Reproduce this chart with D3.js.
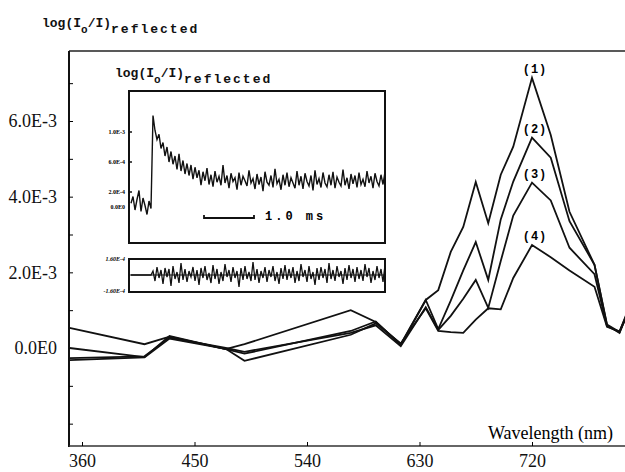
<!DOCTYPE html>
<html>
<head>
<meta charset="utf-8">
<script src="https://cdn.jsdelivr.net/npm/d3@7"></script>
<style>
  body { margin: 0; background: #fff; }
  svg { display: block; }
</style>
</head>
<body>
<svg width="625" height="472"></svg>
<script>
// wavelengths (nm) where the spectra were sampled
const wavelengths = [350, 410, 430, 475, 490, 575, 595, 615, 635, 645, 655, 665, 675, 685, 695, 705, 720, 735, 750, 770, 780, 790, 795];

// log(Io/I) reflected, in units of 1E-3
const curve1 = [0.53, 0.10, 0.30, -0.03, 0.10, 1.00, 0.69, 0.10, 1.27, 1.53, 2.54, 3.20, 4.39, 3.30, 4.58, 5.32, 7.14, 5.63, 3.60, 2.20, 0.62, 0.42, 0.85];
const curve2 = [0.00, -0.24, 0.32, -0.03, -0.15, 0.45, 0.70, 0.08, 1.27, 0.50, 1.25, 2.05, 2.80, 1.80, 3.40, 4.40, 5.56, 5.03, 3.35, 2.20, 0.60, 0.40, 0.80];
const curve3 = [-0.27, -0.22, 0.27, 0.00, -0.10, 0.40, 0.60, 0.05, 1.08, 0.48, 0.85, 1.30, 1.80, 1.06, 2.30, 3.50, 4.37, 3.90, 2.65, 1.95, 0.58, 0.42, 0.80];
const curve4 = [-0.32, -0.25, 0.25, -0.02, -0.34, 0.35, 0.65, 0.12, 1.05, 0.45, 0.42, 0.40, 0.75, 1.05, 1.02, 1.85, 2.72, 2.40, 2.05, 1.62, 0.56, 0.44, 0.82];
const curveNames = ["(1)", "(2)", "(3)", "(4)"];

const xTicks = [360, 450, 540, 630, 720];
const yTicks = [-2, -1, 0, 1, 2, 3, 4, 5, 6, 7];
const yLabels = [0, 2, 4, 6];

// inset: kinetic trace (1E-3), sampled every 0.04 ms from 0.04 ms
const traceStart = 0.04, traceStep = 0.04;
const trace = [0.05, 0.14, -0.04, 0.10, 0.22, -0.06, 0.12, 0.02, -0.10, 0.08, -0.02,
  1.22, 1.02, 0.90, 0.97, 0.78, 0.86, 0.68, 0.80, 0.60, 0.74,
  0.57, 0.68, 0.50, 0.71, 0.48, 0.62, 0.44, 0.58, 0.42, 0.56,
  0.37, 0.53, 0.39, 0.49, 0.29, 0.47, 0.35, 0.52, 0.30, 0.43,
  0.27, 0.48, 0.33, 0.41, 0.29, 0.56, 0.32, 0.42, 0.25, 0.45,
  0.34, 0.39, 0.23, 0.46, 0.29, 0.41, 0.35, 0.28, 0.49, 0.32,
  0.38, 0.24, 0.44, 0.30, 0.40, 0.21, 0.47, 0.33, 0.29, 0.42,
  0.26, 0.51, 0.31, 0.37, 0.23, 0.43, 0.29, 0.46, 0.27, 0.39,
  0.32, 0.25, 0.48, 0.29, 0.41, 0.24, 0.45, 0.34, 0.28, 0.42,
  0.22, 0.49, 0.30, 0.38, 0.26, 0.46, 0.32, 0.27, 0.43, 0.29,
  0.47, 0.25, 0.40, 0.33, 0.28, 0.50, 0.29, 0.39, 0.24, 0.44,
  0.31, 0.42, 0.26, 0.46, 0.30, 0.37, 0.27, 0.48, 0.32, 0.41,
  0.25, 0.45, 0.34, 0.28, 0.43, 0.30, 0.47];
const traceTickValues = [0, 0.2, 0.6, 1.0];
const traceTickLabels = ["0.0E0", "2.0E-4", "6.0E-4", "1.0E-3"];

// inset: residuals of the fit (1E-4)
const residuals = [0, 0, 0, 0, 0, 0, 0, 0, 0, 0, 0,
  0.4, -0.6, 0.8, -0.3, 0.5, -0.9, 0.7, -0.2, 0.6, -1.1,
  0.9, -0.4, 0.3, -0.8, 1.2, -0.5, 0.6, -0.7, 0.4, -0.2,
  0.8, -0.6, 0.5, -1.0, 0.7, -0.3, 0.9, -0.5, 0.2, -0.8,
  1.0, -0.4, 0.6, -0.9, 0.3, -0.6, 1.1, -0.2, 0.5, -0.7,
  0.8, -0.3, 0.4, -1.2, 0.7, -0.5, 0.9, -0.4, 0.3, -0.6,
  1.3, -0.5, 0.6, -0.8, 0.4, -0.3, 0.8, -0.7, 0.5, -0.2,
  0.9, -0.6, 0.3, -0.9, 0.7, -0.4, 1.0, -0.5, 0.6, -0.3,
  0.8, -0.8, 0.4, -0.6, 1.1, -0.2, 0.5, -0.7, 0.9, -0.4,
  0.3, -1.0, 0.7, -0.5, 0.8, -0.3, 0.6, -0.8, 1.2, -0.4,
  0.5, -0.6, 0.9, -0.2, 0.4, -0.9, 0.7, -0.5, 1.0, -0.3,
  0.6, -0.7, 0.8, -0.4, 0.5, -0.6, 1.1, -0.2, 0.7, -0.8,
  0.4, -0.5, 0.9, -0.3, 0.6, -0.7, 1.0];
const residualLabels = ["1.60E-4", "-1.60E-4"];

const svg = d3.select("svg");
const mono = "'Liberation Mono', 'DejaVu Sans Mono', monospace";
const serif = "'Liberation Serif', 'DejaVu Serif', serif";

const x = d3.scaleLinear().domain([360, 720]).range([82, 532]);
const y = d3.scaleLinear().domain([0, 6]).range([348, 121]);

// frame: top line and left axis
svg.append("line")
    .attr("x1", 69).attr("x2", 625).attr("y1", 51).attr("y2", 51)
    .attr("stroke", "#222").attr("stroke-width", 1.5);

const yAxisTicks = svg.append("g")
    .attr("transform", "translate(69,0)")
    .call(d3.axisLeft(y).tickValues(yTicks).tickSize(-4).tickFormat(""));
yAxisTicks.select(".domain").attr("d", "M0,51V447").attr("stroke", "#111").attr("stroke-width", 2);

const yAxisLabels = svg.append("g")
    .attr("transform", "translate(69,0)")
    .call(d3.axisLeft(y).tickValues(yLabels).tickSize(0).tickPadding(12)
        .tickFormat(d => d === 0 ? "0.0E0" : d.toFixed(1) + "E-3"));
yAxisLabels.select(".domain").remove();
yAxisLabels.selectAll("text")
    .style("font-family", serif).style("font-size", "18px").attr("fill", "#111");

const xAxis = svg.append("g")
    .attr("transform", "translate(0,446)")
    .call(d3.axisBottom(x).tickValues(xTicks).tickSize(-4).tickPadding(8));
xAxis.select(".domain").attr("d", "M69,0H625").attr("stroke", "#333").attr("stroke-width", 1.5);
xAxis.selectAll("text")
    .style("font-family", serif).style("font-size", "18px").attr("fill", "#111");

svg.append("text")
    .attr("x", 613).attr("y", 439)
    .attr("text-anchor", "end")
    .style("font-family", serif).style("font-size", "18px")
    .text("Wavelength (nm)");

// y axis title
function logTitle(sel, px, py) {
  const t = sel.append("text")
      .attr("x", px).attr("y", py)
      .style("font-family", mono).style("font-weight", "bold").style("font-size", "13px")
      .attr("fill", "#111");
  t.append("tspan").text("log(I");
  t.append("tspan").attr("dy", 6).style("font-size", "11px").text("o");
  t.append("tspan").attr("dy", -6).text("/I)");
  t.append("tspan").attr("dy", 6).attr("letter-spacing", 2).text("reflected");
}
logTitle(svg, 42, 27);

// spectra
const series = [curve1, curve2, curve3, curve4];
const line = d3.line()
    .x((d, i) => x(wavelengths[i]))
    .y(d => y(d));

svg.append("g")
    .attr("fill", "none")
    .attr("stroke", "#111")
    .attr("stroke-width", 1.8)
    .attr("stroke-linejoin", "miter")
    .selectAll("path")
    .data(series)
    .join("path")
    .attr("d", line);

svg.append("g")
    .selectAll("text")
    .data(series)
    .join("text")
    .attr("x", d => x(wavelengths[d.indexOf(d3.max(d))]) + 3)
    .attr("y", d => y(d3.max(d)) - 5)
    .attr("text-anchor", "middle")
    .attr("letter-spacing", 1)
    .style("font-family", mono).style("font-weight", "bold").style("font-size", "12px")
    .text((d, i) => curveNames[i]);

// ---- inset: kinetic trace ----
logTitle(svg, 115, 77);

const tx = d3.scaleLinear().domain([0, 5.12]).range([129, 385]);
const ty = d3.scaleLinear().domain([0, 1.0]).range([207, 132]);

svg.append("rect")
    .attr("x", 129).attr("y", 91).attr("width", 256).attr("height", 152)
    .attr("fill", "#fff").attr("stroke", "#111").attr("stroke-width", 2);

svg.append("path")
    .datum(trace)
    .attr("fill", "none").attr("stroke", "#111").attr("stroke-width", 1.4)
    .attr("d", d3.line().x((d, i) => tx(traceStart + i * traceStep)).y(d => ty(d)));

svg.append("g")
    .selectAll("line")
    .data(traceTickValues.filter(d => d > 0))
    .join("line")
    .attr("x1", 129).attr("x2", 132)
    .attr("y1", d => ty(d)).attr("y2", d => ty(d))
    .attr("stroke", "#111").attr("stroke-width", 1.5);

svg.append("g")
    .selectAll("text")
    .data(traceTickValues)
    .join("text")
    .attr("x", 125).attr("y", d => ty(d) + 2)
    .attr("text-anchor", "end")
    .style("font-family", serif).style("font-weight", "bold").style("font-size", "6px")
    .text((d, i) => traceTickLabels[i]);

// 1.0 ms scale bar
svg.append("path")
    .attr("d", `M${tx(1.5)},215V218H${tx(2.5)}V215`)
    .attr("fill", "none").attr("stroke", "#111").attr("stroke-width", 1.8);
svg.append("text")
    .attr("x", 265).attr("y", 220)
    .attr("letter-spacing", 3)
    .style("font-family", mono).style("font-weight", "bold").style("font-size", "12px")
    .text("1.0 ms");

// ---- inset: residuals ----
const ry = d3.scaleLinear().domain([-1.6, 1.6]).range([291, 259]);

svg.append("rect")
    .attr("x", 129).attr("y", 259).attr("width", 256).attr("height", 33)
    .attr("fill", "#fff").attr("stroke", "#111").attr("stroke-width", 2);

svg.append("line")
    .attr("x1", 129).attr("x2", 385).attr("y1", ry(0)).attr("y2", ry(0))
    .attr("stroke", "#111").attr("stroke-width", 1.2);

svg.append("path")
    .datum(residuals)
    .attr("fill", "none").attr("stroke", "#111").attr("stroke-width", 1.3)
    .attr("d", d3.line().x((d, i) => tx(traceStart + i * traceStep)).y(d => ry(d)));

svg.append("g")
    .selectAll("text")
    .data([1.6, -1.6])
    .join("text")
    .attr("x", 125).attr("y", d => ry(d) + 2)
    .attr("text-anchor", "end")
    .style("font-family", serif).style("font-weight", "bold").style("font-style", "italic").style("font-size", "6px")
    .text((d, i) => residualLabels[i]);
</script>
</body>
</html>
